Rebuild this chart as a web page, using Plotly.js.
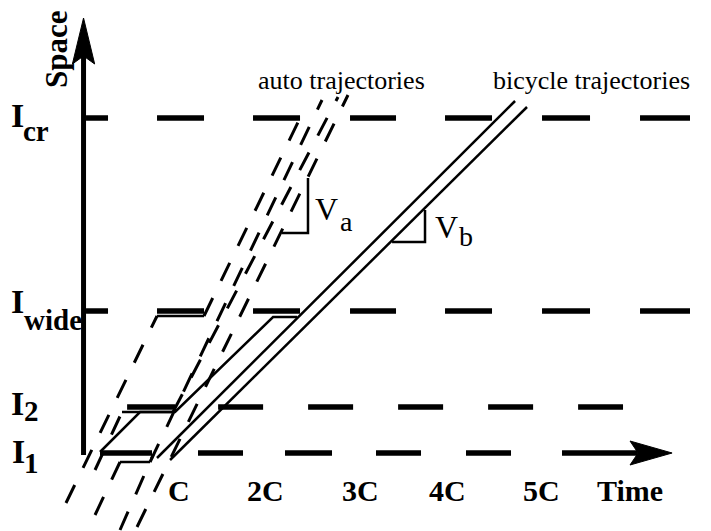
<!DOCTYPE html>
<html>
<head>
<meta charset="utf-8">
<script src="https://cdn.plot.ly/plotly-3.0.1.min.js"></script>
<style>html,body{margin:0;padding:0;background:#fff;}#chart{width:711px;height:531px;}</style>
</head>
<body>
<div id="chart"></div>
<script>
// ---- data (time in cycle lengths C, space in distance units above I1) ----
const timeTicks = [1, 1.96, 3, 3.97, 5];
const timeTickText = ['C', '2C', '3C', '4C', '5C'];

const levelNames = ['I1', 'I2', 'Iwide', 'Icr'];
const levelSpace = [0, 46, 142, 335];
const levelStart = [0.127, 0.4265, -0.0276, -0.0276];
const levelEnd = [6.07, 5.906, 6.646, 6.646];

// auto trajectories (horizontal pieces = waiting at a red signal)
const autoA_t = [-0.249, 0.757, 1.276, 2.337];
const autoA_s = [-50, 137, 137, 335];
const autoB_t = [0.536, 2.867];
const autoB_s = [-74, 358];
const autoC_t = [0.072, 0.348, 0.680, 2.580];
const autoC_s = [-62, -9, -9, 353];
const autoD_t = [0.072, 0.370, 0.934, 2.757];
const autoD_s = [-17, 41, 41, 356];
const autoE_t = [0.348, 0.713];
const autoE_s = [-77, -2];

// bicycle trajectories
const bike1_t = [0.757, 4.713];
const bike1_s = [-5, 352];
const bike2_t = [0.901, 4.845];
const bike2_s = [-7, 346];
const bike3_t = [0.127, 0.569, 0.956, 2.039, 2.304];
const bike3_s = [1, 41, 41, 136, 136];

// speed triangles
const va_t = [2.138, 2.425, 2.425];
const va_s = [220, 220, 275];
const vb_t = [3.354, 3.718, 3.718];
const vb_s = [211, 211, 243];

// axes
const spaceAxis_t = [-0.055, -0.055];
const spaceAxis_s = [-2, 398];
const spaceArrow_t = [-0.055, 0.068, -0.055, -0.178, -0.055];
const spaceArrow_s = [435, 389, 397, 389, 435];
const timeArrow_t = [6.448, 5.983, 6.072, 5.983, 6.448];
const timeArrow_s = [0, 12, 0, -12, 0];

// ---- drawing ----
const K = '#000';
const traces = [];
const levelDash = [
  '52px,46px,45px,42px,47px,44px,45px,45px,45px,51px,300px',
  '48px,43px,45px,45px,45px,45px,45px,45px,45px,45px,45px',
  '22px,49px,47px,49px,47px,50px,46px,49px,47px,50px,48px,50px,50px',
  '22px,49px,47px,49px,47px,50px,46px,49px,47px,50px,48px,50px,50px'
];
levelSpace.forEach((s, i) => {
  traces.push({x: [levelStart[i], levelEnd[i]], y: [s, s], mode: 'lines',
    line: {color: K, width: 5.5, dash: levelDash[i]}, hoverinfo: 'skip'});
});

function addAuto(ts, ss) {
  for (let i = 0; i < ts.length - 1; i++) {
    const waiting = ss[i] === ss[i + 1];
    traces.push({x: [ts[i], ts[i + 1]], y: [ss[i], ss[i + 1]], mode: 'lines',
      line: {color: K, width: waiting ? 2.5 : 3, dash: waiting ? 'solid' : '20px,19px'},
      hoverinfo: 'skip'});
  }
}
addAuto(autoA_t, autoA_s);
addAuto(autoB_t, autoB_s);
addAuto(autoC_t, autoC_s);
addAuto(autoD_t, autoD_s);
addAuto(autoE_t, autoE_s);

[[bike1_t, bike1_s], [bike2_t, bike2_s], [bike3_t, bike3_s], [va_t, va_s], [vb_t, vb_s]].forEach(p => {
  traces.push({x: p[0], y: p[1], mode: 'lines', line: {color: K, width: 2.5}, hoverinfo: 'skip'});
});

traces.push({x: spaceAxis_t, y: spaceAxis_s, mode: 'lines', line: {color: K, width: 5}, hoverinfo: 'skip'});
traces.push({x: spaceArrow_t, y: spaceArrow_s, mode: 'lines', fill: 'toself', fillcolor: K,
  line: {color: K, width: 1}, hoverinfo: 'skip'});
traces.push({x: timeArrow_t, y: timeArrow_s, mode: 'lines', fill: 'toself', fillcolor: K,
  line: {color: K, width: 1}, hoverinfo: 'skip'});

const serif = 'Liberation Serif, Times New Roman, serif';
function ann(x, y, text, size, bold, extra) {
  return Object.assign({x: x, y: y, xref: 'x', yref: 'y', text: bold ? '<b>' + text + '</b>' : text,
    showarrow: false, xanchor: 'center', yanchor: 'middle',
    font: {family: serif, size: size, color: K}}, extra || {});
}
const annotations = [];
timeTicks.forEach((t, i) => annotations.push(ann(t, -37, timeTickText[i], 30, true)));
annotations.push(ann(5.988, -37, 'Time', 30, true));
annotations.push(ann(-0.359, 404, 'Space', 31, true, {textangle: -90}));
// space level labels
annotations.push(ann(-0.790, 338, 'I', 34, true));
annotations.push(ann(-0.580, 322, 'cr', 29, true));
annotations.push(ann(-0.790, 152, 'I', 34, true));
annotations.push(ann(-0.392, 133, 'wide', 29, true));
annotations.push(ann(-0.790, 50, 'I', 34, true));
annotations.push(ann(-0.635, 42, '2', 29, true));
annotations.push(ann(-0.779, 2, 'I', 34, true));
annotations.push(ann(-0.635, -10, '1', 29, true));
annotations.push(ann(2.79, 373, 'auto trajectories', 26, false));
annotations.push(ann(5.558, 373, 'bicycle trajectories', 26, false));
annotations.push(ann(2.635, 244, 'V', 32, false));
annotations.push(ann(2.845, 232, 'a', 28, false));
annotations.push(ann(3.950, 226, 'V', 32, false));
annotations.push(ann(4.170, 217, 'b', 28, false));

const layout = {
  width: 711, height: 531,
  margin: {l: 0, r: 0, t: 0, b: 0, pad: 0},
  paper_bgcolor: '#fff', plot_bgcolor: '#fff',
  showlegend: false,
  xaxis: {range: [-0.978, 6.878], visible: false, fixedrange: true},
  yaxis: {range: [-78, 453], visible: false, fixedrange: true},
  annotations: annotations
};
Plotly.newPlot('chart', traces, layout, {staticPlot: true, displayModeBar: false});
</script>
</body>
</html>
